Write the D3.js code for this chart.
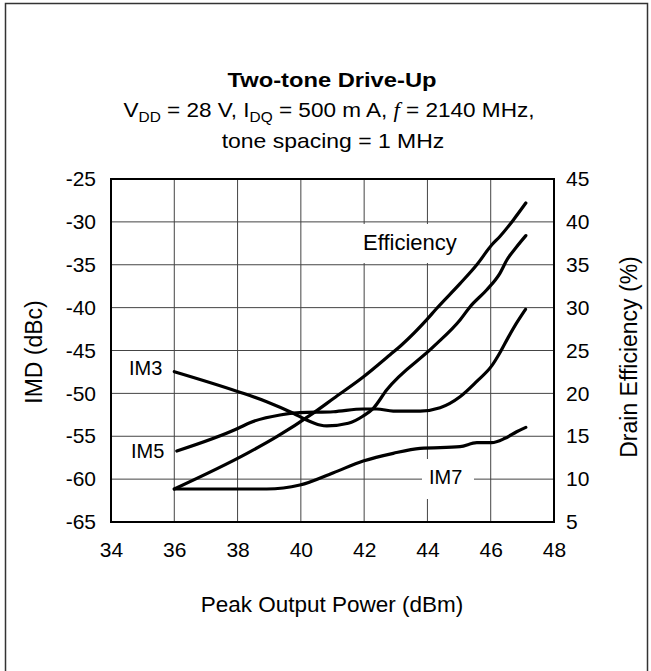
<!DOCTYPE html>
<html>
<head>
<meta charset="utf-8">
<script src="https://cdn.jsdelivr.net/npm/d3@7"></script>
<style>
  body { margin: 0; background: #fff; }
  svg { display: block; font-family: "Liberation Sans", Arial, sans-serif; }
</style>
</head>
<body>
<script>
// values
const xTicks = [34, 36, 38, 40, 42, 44, 46, 48];
const imdTicks = [-65, -60, -55, -50, -45, -40, -35, -30, -25];
const effTicks = [5, 10, 15, 20, 25, 30, 35, 40, 45];

const effPower = [36, 38.3, 39.24, 40.39, 41.03, 41.97, 42.82, 43.2, 43.98, 44.29, 45.03, 45.56, 46.03, 46.29, 46.71, 47.11];
const effValues = [8.85, 13.0, 14.95, 17.7, 19.4, 21.9, 24.5, 25.7, 28.6, 29.9, 32.8, 35.0, 37.3, 38.3, 40.2, 42.2];

const im3Power = [36, 38.02, 38.92, 39.76, 40.18, 40.6, 40.82, 41.5, 41.97, 42.29, 42.71, 44.19, 45.03, 45.35, 45.87, 46.29, 46.51, 46.82, 47.11];
const im3Values = [-47.47, -49.8, -50.97, -52.32, -53.1, -53.69, -53.8, -53.49, -52.64, -51.74, -49.61, -44.56, -41.44, -39.89, -37.94, -36.0, -34.45, -32.9, -31.6];

const im5Power = [36.08, 38.02, 38.39, 39.34, 39.97, 41.03, 41.97, 42.4, 42.92, 43.77, 44.4, 45.03, 45.56, 46.03, 46.3, 46.55, 46.8, 47.1];
const im5Values = [-56.72, -54.07, -53.42, -52.52, -52.25, -52.14, -51.82, -51.82, -52.06, -52.06, -51.67, -50.39, -48.6, -46.8, -45.2, -43.5, -41.9, -40.2];

const im7Power = [36, 37.5, 38.92, 39.97, 41.03, 41.97, 42.92, 43.77, 45.03, 45.56, 46.03, 46.45, 46.82, 47.11];
const im7Values = [-61.15, -61.15, -61.15, -60.69, -59.25, -57.89, -56.99, -56.41, -56.22, -55.75, -55.75, -55.24, -54.47, -53.96];

const width = 651, height = 671;
const margin = {top: 179, right: 97, bottom: 149, left: 111};
const plotW = width - margin.left - margin.right,
      plotH = height - margin.top - margin.bottom;

const svg = d3.select("body").append("svg")
    .attr("width", width)
    .attr("height", height);

// outer frame of the figure
svg.append("rect")
    .attr("x", 5.5).attr("y", 3.5)
    .attr("width", 642).attr("height", 680)
    .attr("fill", "none").attr("stroke", "#333").attr("stroke-width", 1.5);

// title block
const title = svg.append("g").attr("fill", "#000");
title.append("text")
    .attr("transform", "translate(332,87) scale(1.13,1)")
    .attr("text-anchor", "middle")
    .attr("font-size", 21).attr("font-weight", "bold")
    .text("Two-tone Drive-Up");

const sub = title.append("text")
    .attr("transform", "translate(329,117) scale(1.1,1)")
    .attr("text-anchor", "middle")
    .attr("font-size", 20.5);
sub.append("tspan").text("V");
sub.append("tspan").attr("font-size", 14).attr("dy", 5).text("DD");
sub.append("tspan").attr("dy", -5).text(" = 28 V, I");
sub.append("tspan").attr("font-size", 14).attr("dy", 5).text("DQ");
sub.append("tspan").attr("dy", -5).text(" = 500 m A,  ");
sub.append("tspan").attr("font-family", "Liberation Serif, serif").attr("font-style", "italic").text("f");
sub.append("tspan").text(" = 2140 MHz,");

title.append("text")
    .attr("transform", "translate(333,148) scale(1.12,1)")
    .attr("text-anchor", "middle")
    .attr("font-size", 20.5)
    .text("tone spacing = 1 MHz");

const g = svg.append("g")
    .attr("transform", "translate(" + margin.left + "," + margin.top + ")");

const x = d3.scaleLinear().domain([34, 48]).range([0, plotW]);
const y = d3.scaleLinear().domain([-65, -25]).range([plotH, 0]);
const yR = d3.scaleLinear().domain([5, 45]).range([plotH, 0]);

// grid
g.append("g").selectAll("line")
    .data(xTicks.slice(1, -1))
    .join("line")
    .attr("x1", d => x(d)).attr("x2", d => x(d))
    .attr("y1", 0).attr("y2", plotH)
    .attr("stroke", "#444").attr("stroke-width", 1);
g.append("g").selectAll("line")
    .data(imdTicks.slice(1, -1))
    .join("line")
    .attr("x1", 0).attr("x2", plotW)
    .attr("y1", d => y(d)).attr("y2", d => y(d))
    .attr("stroke", "#444").attr("stroke-width", 1);

// axes, labels only
const xAxis = g.append("g")
    .attr("transform", "translate(0," + plotH + ")")
    .call(d3.axisBottom(x).tickValues(xTicks).tickSize(0).tickPadding(20).tickFormat(d3.format("d")));
const yAxis = g.append("g")
    .call(d3.axisLeft(y).tickValues(imdTicks).tickSize(0).tickPadding(15).tickFormat(d => d));
const yAxisR = g.append("g")
    .attr("transform", "translate(" + plotW + ",0)")
    .call(d3.axisRight(yR).tickValues(effTicks).tickSize(0).tickPadding(12).tickFormat(d => d));
[xAxis, yAxis, yAxisR].forEach(a => {
  a.select(".domain").remove();
  a.selectAll("text").attr("font-size", 21).attr("font-family", "Liberation Sans, Arial, sans-serif").attr("fill", "#000");
});
yAxis.selectAll("text").text(d => d < 0 ? "-" + Math.abs(d) : d);

// white boxes behind the curve labels (they cut the grid)
const boxes = [
  {x: 1, y: 352, w: 61, h: 40},
  {x: 13, y: 437, w: 49, h: 38},
  {x: 311, y: 459, w: 52, h: 40},
  {x: 250, y: 224, w: 102, h: 39}
];
g.append("g").selectAll("rect")
    .data(boxes)
    .join("rect")
    .attr("x", d => d.x).attr("y", d => d.y - margin.top)
    .attr("width", d => d.w).attr("height", d => d.h)
    .attr("fill", "#fff");

// curves
const lineImd = d3.line().x(d => x(d[0])).y(d => y(d[1])).curve(d3.curveMonotoneX);
const lineEff = d3.line().x(d => x(d[0])).y(d => yR(d[1])).curve(d3.curveMonotoneX);

const series = [
  {path: lineEff(d3.zip(effPower, effValues))},
  {path: lineImd(d3.zip(im3Power, im3Values))},
  {path: lineImd(d3.zip(im5Power, im5Values))},
  {path: lineImd(d3.zip(im7Power, im7Values))}
];
g.append("g").selectAll("path")
    .data(series)
    .join("path")
    .attr("d", d => d.path)
    .attr("fill", "none")
    .attr("stroke", "#000")
    .attr("stroke-width", 3.2)
    .attr("stroke-linecap", "round")
    .attr("stroke-linejoin", "round");

// plot frame
g.append("rect")
    .attr("width", plotW).attr("height", plotH)
    .attr("fill", "none").attr("stroke", "#000").attr("stroke-width", 2);

// curve labels
const labels = [
  {t: "IM3", x: 129, y: 375, s: 20},
  {t: "IM5", x: 131, y: 458, s: 20},
  {t: "IM7", x: 429, y: 484, s: 20},
  {t: "Efficiency", x: 363, y: 250, s: 22}
];
svg.append("g").selectAll("text")
    .data(labels)
    .join("text")
    .attr("x", d => d.x).attr("y", d => d.y)
    .attr("font-size", d => d.s)
    .text(d => d.t);

// axis titles
svg.append("text")
    .attr("x", 332).attr("y", 612)
    .attr("text-anchor", "middle").attr("font-size", 22.5)
    .text("Peak Output Power (dBm)");
svg.append("text")
    .attr("transform", "translate(42,352) rotate(-90)")
    .attr("text-anchor", "middle").attr("font-size", 23)
    .text("IMD (dBc)");
svg.append("text")
    .attr("transform", "translate(637,357) rotate(-90)")
    .attr("text-anchor", "middle").attr("font-size", 23)
    .text("Drain Efficiency (%)");
</script>
</body>
</html>
